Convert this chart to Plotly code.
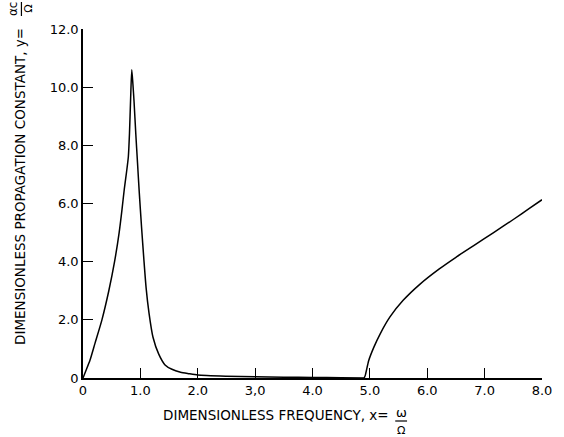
import plotly.graph_objects as go

# Left resonance branch (x = omega/Omega, y = alpha c / Omega)
x_left = [0.0, 0.05, 0.12, 0.21, 0.33, 0.45, 0.55, 0.63, 0.68, 0.72, 0.76, 0.79, 0.81, 0.83, 0.85,
          0.87, 0.89, 0.92, 0.95, 0.98, 1.02, 1.06, 1.10, 1.15, 1.22, 1.32, 1.43, 1.55, 1.7, 1.84, 2.0,
          2.5, 3.0, 3.5, 4.0, 4.5, 4.9]
y_left = [0.0, 0.25, 0.6, 1.2, 2.0, 3.0, 4.0, 5.0, 5.8, 6.5, 7.1, 7.6, 8.4, 9.6, 10.6,
          10.1, 9.5, 8.4, 7.4, 6.4, 5.2, 4.1, 3.1, 2.24, 1.4, 0.82, 0.45, 0.3, 0.2, 0.15, 0.1,
          0.06, 0.04, 0.03, 0.02, 0.01, 0.0]

# Right branch above cutoff
x_right = [4.9, 4.92, 4.98, 5.07, 5.18, 5.35, 5.58, 5.87, 6.21, 6.5, 6.81, 7.15, 7.5, 7.78, 8.0]
y_right = [0.0, 0.09, 0.6, 1.06, 1.52, 2.1, 2.67, 3.22, 3.75, 4.15, 4.55, 4.99, 5.45, 5.83, 6.13]

x_ticks = [0, 1, 2, 3, 4, 5, 6, 7, 8]
x_ticktext = ["0", "1.0", "2.0", "3,0", "4.0", "5.0", "6.0", "7.0", "8.0"]
y_ticks = [0, 2, 4, 6, 8, 10, 12]
y_ticktext = ["0", "2.0", "4.0", "6.0", "8.0", "10.0", "12.0"]

W, H = 564, 437
L, R, T, B = 83, 15, 29, 59
PW, PH = W - L - R, H - T - B


def px(xp):
    return (xp - L) / PW


def py(yp):
    return (H - B - yp) / PH


FONT = "DejaVu Sans, Liberation Sans, sans-serif"

fig = go.Figure()
fig.add_trace(go.Scatter(x=x_left, y=y_left, mode="lines",
                         line=dict(color="black", width=1.5, shape="spline", smoothing=0.6),
                         showlegend=False))
fig.add_trace(go.Scatter(x=x_right, y=y_right, mode="lines",
                         line=dict(color="black", width=1.5, shape="spline", smoothing=0.6),
                         showlegend=False))

fig.update_layout(
    width=W, height=H, autosize=False,
    margin=dict(l=L, r=R, t=T, b=B),
    paper_bgcolor="white", plot_bgcolor="white",
    font=dict(family=FONT, size=13, color="black"),
    showlegend=False,
)
fig.update_xaxes(range=[0, 8], tickvals=x_ticks, ticktext=x_ticktext,
                 ticks="inside", ticklen=10, tickwidth=1.3, tickcolor="black",
                 showline=True, linecolor="black", linewidth=1.5,
                 showgrid=False, zeroline=False, tickfont=dict(size=13))
fig.update_yaxes(range=[0, 12], tickvals=y_ticks, ticktext=y_ticktext,
                 ticks="inside", ticklen=10, tickwidth=1.3, tickcolor="black",
                 showline=True, linecolor="black", linewidth=1.5,
                 showgrid=False, zeroline=False, tickfont=dict(size=13),
                 ticklabelstandoff=0)

ann = []
ann.append(dict(text="DIMENSIONLESS PROPAGATION CONSTANT, y=", textangle=-90,
                x=px(19), y=py(186), xref="paper", yref="paper",
                xanchor="center", yanchor="middle", showarrow=False,
                font=dict(size=13.5)))
ann.append(dict(text="αc", textangle=-90, x=px(12), y=py(9), xref="paper", yref="paper",
                xanchor="center", yanchor="middle", showarrow=False, font=dict(size=12)))
ann.append(dict(text="Ω", textangle=-90, x=px(28), y=py(9), xref="paper", yref="paper",
                xanchor="center", yanchor="middle", showarrow=False, font=dict(size=11)))
ann.append(dict(text="DIMENSIONLESS FREQUENCY, x=",
                x=px(279), y=py(415), xref="paper", yref="paper",
                xanchor="center", yanchor="middle", showarrow=False, font=dict(size=13.5)))
ann.append(dict(text="ω", x=px(406), y=py(412), xref="paper", yref="paper",
                xanchor="center", yanchor="middle", showarrow=False, font=dict(size=13)))
ann.append(dict(text="Ω", x=px(406), y=py(430), xref="paper", yref="paper",
                xanchor="center", yanchor="middle", showarrow=False, font=dict(size=11)))
fig.update_layout(annotations=ann)

fig.add_shape(type="line", xref="paper", yref="paper",
              x0=px(20.5), x1=px(20.5), y0=py(2), y1=py(16),
              line=dict(color="black", width=1.2))
fig.add_shape(type="line", xref="paper", yref="paper",
              x0=px(400), x1=px(412), y0=py(421), y1=py(421),
              line=dict(color="black", width=1.2))

fig.write_html("out.html")
